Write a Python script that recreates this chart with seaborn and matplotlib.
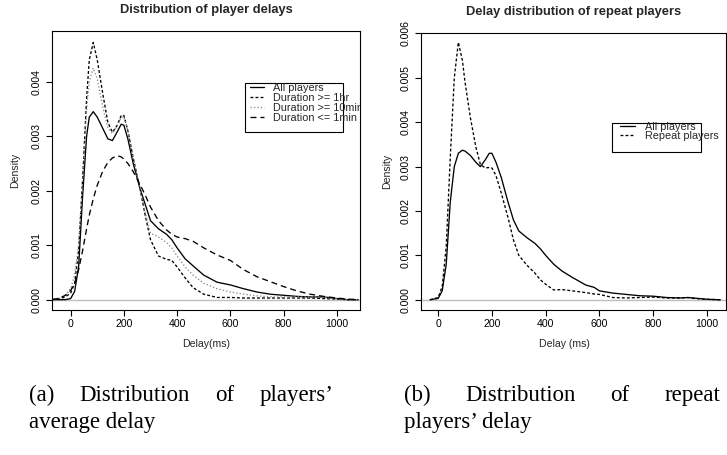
import numpy as np
import pandas as pd
import matplotlib
matplotlib.use("Agg")
import matplotlib.pyplot as plt
from matplotlib.patches import Rectangle
import seaborn as sns

# ---------------- data (density values in units of 0.001) ----------------
x_all_a = [-70, -40, -20, 0, 15, 30, 45, 60, 70, 85, 100, 120, 140, 157, 175, 190, 200, 215, 235, 260,
           280, 300, 330, 360, 380, 400, 430, 460, 500, 550, 600, 650, 700, 750, 800, 850, 900, 950, 1000, 1040, 1080]
y_all_a = [0, 0, 0, 0.02, 0.15, 0.6, 1.9, 3.0, 3.35, 3.45, 3.35, 3.15, 2.95, 2.92, 3.08, 3.22, 3.2, 2.95, 2.5, 2.05,
           1.75, 1.45, 1.3, 1.2, 1.1, 0.95, 0.75, 0.62, 0.45, 0.32, 0.27, 0.2, 0.14, 0.1, 0.08, 0.06, 0.05, 0.05, 0.02, 0.0, 0]
y_1hr = [0, 0.02, 0.05, 0.12, 0.3, 0.9, 2.2, 3.7, 4.4, 4.72, 4.4, 3.8, 3.25, 3.07, 3.2, 3.38, 3.38, 3.1, 2.6, 2.05,
         1.55, 1.1, 0.8, 0.74, 0.72, 0.6, 0.4, 0.22, 0.1, 0.04, 0.04, 0.03, 0.03, 0.03, 0.03, 0.03, 0.03, 0.02, 0.01, 0, 0]
y_10min = [0, 0.03, 0.08, 0.2, 0.45, 1.0, 2.2, 3.5, 4.0, 4.25, 4.05, 3.55, 3.15, 3.05, 3.18, 3.35, 3.35, 3.1, 2.6, 2.05,
           1.6, 1.22, 1.15, 1.05, 0.95, 0.8, 0.6, 0.45, 0.3, 0.2, 0.14, 0.1, 0.07, 0.05, 0.05, 0.05, 0.05, 0.04, 0.02, 0, 0]
y_1min = [0, 0.03, 0.08, 0.17, 0.3, 0.55, 0.9, 1.3, 1.55, 1.85, 2.1, 2.35, 2.52, 2.6, 2.64, 2.62, 2.58, 2.5, 2.35, 2.12,
          1.92, 1.7, 1.45, 1.28, 1.2, 1.15, 1.12, 1.07, 0.95, 0.82, 0.72, 0.55, 0.42, 0.33, 0.24, 0.16, 0.1, 0.06, 0.03, 0.01, 0]

x_b = [-30, 0, 15, 30, 45, 60, 75, 90, 100, 120, 140, 157, 175, 190, 200, 215, 235, 260, 280, 300, 330, 360, 380,
       400, 430, 460, 500, 550, 580, 600, 650, 700, 750, 800, 850, 900, 930, 950, 1000, 1050]
y_all_b = [0, 0.03, 0.2, 0.8, 2.2, 3.0, 3.3, 3.37, 3.35, 3.25, 3.1, 3.0, 3.15, 3.3, 3.3, 3.1, 2.75, 2.2, 1.8, 1.55,
           1.4, 1.27, 1.15, 1.0, 0.8, 0.65, 0.5, 0.33, 0.28, 0.2, 0.15, 0.12, 0.09, 0.08, 0.05, 0.04, 0.05, 0.04, 0.01, 0]
y_repeat = [0, 0.05, 0.3, 1.2, 3.2, 5.0, 5.8, 5.4, 4.9, 4.1, 3.45, 3.05, 2.97, 2.98, 2.97, 2.8, 2.4, 1.85, 1.35, 1.0,
            0.78, 0.6, 0.45, 0.35, 0.22, 0.23, 0.2, 0.16, 0.13, 0.12, 0.05, 0.04, 0.05, 0.06, 0.04, 0.04, 0.05, 0.03, 0.01, 0]

labels_a = ["All players", "Duration >= 1hr", "Duration >= 10min", "Duration <= 1min"]
labels_b = ["All players", "Repeat players"]
titles = ["Distribution of player delays", "Delay distribution of repeat players"]
xlabels = ["Delay(ms)", "Delay (ms)"]
xticks = [0, 200, 400, 600, 800, 1000]
yticks_a = [0.000, 0.001, 0.002, 0.003, 0.004]
yticks_b = [0.000, 0.001, 0.002, 0.003, 0.004, 0.005, 0.006]
cap_a = ["(a) Distribution of players\u2019", "average delay"]
cap_b = ["(b) Distribution of repeat", "players\u2019 delay"]

# ---------------- style ----------------
sns.set_theme(style="ticks")
plt.rcParams['font.family'] = ['Liberation Sans', 'DejaVu Sans']
plt.rcParams['axes.linewidth'] = 0.8
plt.rcParams['xtick.major.width'] = 0.8
plt.rcParams['ytick.major.width'] = 0.8

W, H = 727, 455
fig = plt.figure(figsize=(W / 100, H / 100), dpi=100)
fig.patch.set_facecolor("white")

axL = fig.add_axes([52 / W, (H - 310) / H, 308 / W, 279 / H])
axR = fig.add_axes([420.7 / W, (H - 310) / H, 305.3 / W, 277 / H])

K = 1e-3
dense = (0, (2.2, 1.6))
dots = (0, (1.0, 1.6))
longd = (0, (4.5, 3.0))

series_a = [
    (x_all_a, y_all_a, "black", "-", labels_a[0]),
    (x_all_a, y_1hr, "black", dense, labels_a[1]),
    (x_all_a, y_10min, "#8a8a8a", dots, labels_a[2]),
    (x_all_a, y_1min, "black", longd, labels_a[3]),
]
series_b = [
    (x_b, y_all_b, "black", "-", labels_b[0]),
    (x_b, y_repeat, "black", dense, labels_b[1]),
]

for ax, series in ((axL, series_a), (axR, series_b)):
    ax.axhline(0, color="#bebebe", lw=1.0, zorder=1)
    for xs, ys, col, ls, lab in series:
        df = pd.DataFrame({"x": xs, "y": np.array(ys) * K})
        sns.lineplot(data=df, x="x", y="y", ax=ax, color=col, linewidth=0.95,
                     linestyle=ls, label=lab, legend=False, sort=False, zorder=3)

axL.set_xlim(-70, 1087)
axL.set_ylim(-0.00019, 0.00493)
axR.set_xlim(-65, 1071)
axR.set_ylim(-0.000231, 0.006011)

for ax, yt, ttl, xl in ((axL, yticks_a, titles[0], xlabels[0]), (axR, yticks_b, titles[1], xlabels[1])):
    ax.set_xticks(xticks)
    ax.set_xticklabels([str(v) for v in xticks])
    ax.set_yticks(yt)
    ax.set_yticklabels(["%.3f" % v for v in yt], rotation=90, va="center")
    ax.tick_params(axis="both", direction="out", length=4, width=0.8, labelsize=7.6,
                   colors="black", pad=2.5)
    ax.tick_params(axis="y", pad=3.5)
    for sp in ax.spines.values():
        sp.set_visible(True)
        sp.set_color("black")
        sp.set_linewidth(0.8)
    ax.set_facecolor("white")
    ax.set_xlabel(xl, fontsize=7.6)
    ax.set_ylabel("Density", fontsize=7.6)
    ax.text(0.5, 1 + 21 / 279, ttl, transform=ax.transAxes, ha="center", va="center",
            fontsize=9.3, fontweight="bold")

axL.xaxis.set_label_coords(0.5, -0.105)
axL.yaxis.set_label_coords(-0.105, 0.5)
axR.xaxis.set_label_coords(0.47, -0.105)
axR.yaxis.set_label_coords(-0.095, 0.5)


def make_legend(ax, anchor, frame, rowsp, hlen):
    handles = ax.get_lines()[1:]
    labs = [h.get_label() for h in handles]
    leg = ax.legend(handles, labs, loc="upper left", bbox_to_anchor=anchor, frameon=False,
                    fontsize=7.8, handlelength=hlen, handletextpad=0.9, labelspacing=rowsp,
                    borderpad=0, borderaxespad=0)
    for t in leg.get_texts():
        t.set_clip_box(ax.bbox)
        t.set_clip_on(True)
    ax.add_patch(Rectangle(frame[:2], frame[2], frame[3], transform=ax.transAxes,
                           fill=False, edgecolor="black", lw=0.8, zorder=5, clip_on=False))


make_legend(axL, (0.643, 0.815), (0.627, 0.638, 0.318, 0.176), 0.0, 1.25)
make_legend(axR, (0.653, 0.678), (0.627, 0.570, 0.2915, 0.1047), -0.12, 1.4)

# ---------------- captions (justified first line) ----------------
fig.canvas.draw()
renderer = fig.canvas.get_renderer()
cap_font = dict(family=["Liberation Serif", "DejaVu Serif"], fontsize=16.5, color="black")


def justified(text, x0, x1, y):
    words = text.split(" ")
    objs = [fig.text(0, 1 - y / H, w, ha="left", va="baseline", **cap_font) for w in words]
    widths = [o.get_window_extent(renderer).width for o in objs]
    gap = (x1 - x0 - sum(widths)) / (len(words) - 1)
    xx = x0
    for o, wd in zip(objs, widths):
        o.set_x(xx / W)
        xx += wd + gap


justified(cap_a[0], 29, 334, 401)
fig.text(29 / W, 1 - 428 / H, cap_a[1], ha="left", va="baseline", **cap_font)
justified(cap_b[0], 404, 720, 401)
fig.text(404 / W, 1 - 428 / H, cap_b[1], ha="left", va="baseline", **cap_font)

fig.savefig("out.png", dpi=100, facecolor="white")
